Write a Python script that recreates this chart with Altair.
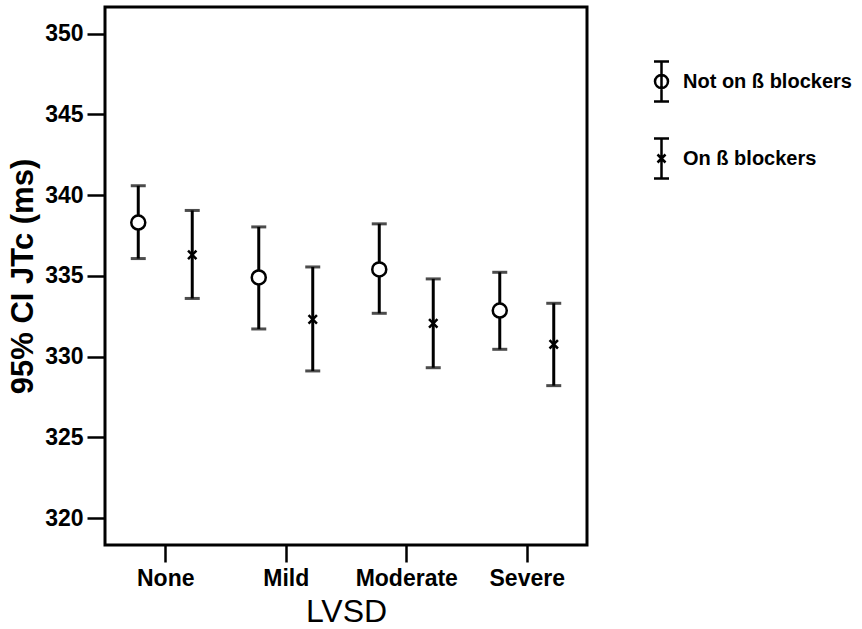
import json
import altair as alt
import pandas as pd

# ---- data ----
lvsd = ["None", "Mild", "Moderate", "Severe"]
groups = ["Not on ß blockers", "On ß blockers"]

not_mean = [338.3, 334.9, 335.4, 332.85]
not_lo = [336.07, 331.71, 332.68, 330.45]
not_hi = [340.58, 338.03, 338.22, 335.22]

on_mean = [336.3, 332.3, 332.06, 330.76]
on_lo = [333.6, 329.11, 329.31, 328.2]
on_hi = [339.05, 335.55, 334.81, 333.3]

y_ticks = [320, 325, 330, 335, 340, 345, 350]

rows = []
for i, cat in enumerate(lvsd):
    rows.append(dict(lvsd=cat, group=groups[0], mean=not_mean[i], lo=not_lo[i], hi=not_hi[i]))
    rows.append(dict(lvsd=cat, group=groups[1], mean=on_mean[i], lo=on_lo[i], hi=on_hi[i]))
df = pd.DataFrame(rows)

FONT = "Liberation Sans"
offset = 0.224

base = alt.Chart(df).transform_calculate(
    xpos=f"indexof({json.dumps(lvsd)}, datum.lvsd) + 0.5 + (datum.group == '{groups[0]}' ? -{offset} : {offset})"
)

label_expr = f"{json.dumps(lvsd)}[floor(datum.value)]"

x_enc = alt.X(
    "xpos:Q",
    scale=alt.Scale(domain=[0, 4], nice=False, zero=False),
    axis=alt.Axis(
        values=[0.5, 1.5, 2.5, 3.5],
        labelExpr=label_expr,
        title="LVSD",
        grid=False,
        domain=False,
        tickSize=17,
        tickWidth=2.5,
        tickColor="black",
        labelFont=FONT,
        labelFontSize=23,
        labelFontWeight="bold",
        labelColor="black",
        labelPadding=5,
        titleFont=FONT,
        titleFontSize=32,
        titleFontWeight="normal",
        titleColor="black",
        titlePadding=6,
    ),
)

y_scale = alt.Scale(domain=[318.33, 351.65], nice=False, zero=False)
y_axis = alt.Axis(
    values=y_ticks,
    title="95% CI JTc (ms)",
    grid=False,
    domain=False,
    tickSize=18,
    tickWidth=2.5,
    tickColor="black",
    labelFont=FONT,
    labelFontSize=23,
    labelFontWeight="bold",
    labelColor="black",
    labelPadding=4,
    titleFont=FONT,
    titleFontSize=31,
    titleFontWeight="bold",
    titleColor="black",
    titlePadding=5,
)

rules = base.mark_rule(color="black", strokeWidth=3).encode(
    x=x_enc,
    y=alt.Y("lo:Q", scale=y_scale, axis=y_axis),
    y2="hi:Q",
)

cap_lo = base.mark_tick(orient="horizontal", size=15, thickness=3, color="black").encode(
    x="xpos:Q", y="lo:Q"
)
cap_hi = base.mark_tick(orient="horizontal", size=15, thickness=3, color="black").encode(
    x="xpos:Q", y="hi:Q"
)

cross_path = "M-0.6,-0.6L0.6,0.6M0.6,-0.6L-0.6,0.6"
points = base.mark_point(
    filled=False, fill="white", fillOpacity=1, stroke="black", strokeWidth=2.5, opacity=1, size=196
).encode(
    x="xpos:Q",
    y="mean:Q",
    shape=alt.Shape("group:N", scale=alt.Scale(domain=groups, range=["circle", cross_path]), legend=None),
)

leg_not = ("M-0.375,-1H0.375M0,-1V1M-0.375,1H0.375"
           "M-0.325,0A0.325,0.325,0,1,0,0.325,0A0.325,0.325,0,1,0,-0.325,0")
leg_on = ("M-0.375,-1H0.375M0,-1V1M-0.375,1H0.375"
          "M-0.2,-0.2L0.2,0.2M0.2,-0.2L-0.2,0.2")

legend_layer = base.mark_point(color="black", opacity=0).encode(
    x="xpos:Q",
    y="mean:Q",
    shape=alt.Shape(
        "group:N",
        scale=alt.Scale(domain=groups, range=[leg_not, leg_on]),
        legend=alt.Legend(
            title=None,
            orient="none",
            legendX=535,
            legendY=53,
            padding=0,
            symbolSize=1600,
            symbolStrokeWidth=2.5,
            symbolStrokeColor="black",
            symbolFillColor="transparent",
            symbolOpacity=1,
            labelFont=FONT,
            labelFontSize=20,
            labelFontWeight="bold",
            labelColor="black",
            labelOffset=0,
            labelLimit=400,
            rowPadding=26,
        ),
    ),
)

chart = (
    alt.layer(rules, cap_lo, cap_hi, points, legend_layer)
    .resolve_scale(shape="independent")
    .properties(
        width=482,
        height=538,
        autosize=alt.AutoSizeParams(type="none"),
        padding={"left": 105, "top": 7, "right": 275, "bottom": 84},
        background="white",
    )
    .configure_view(stroke="black", strokeWidth=3)
)

chart.save("out.html", embed_options={"renderer": "svg", "actions": False})
